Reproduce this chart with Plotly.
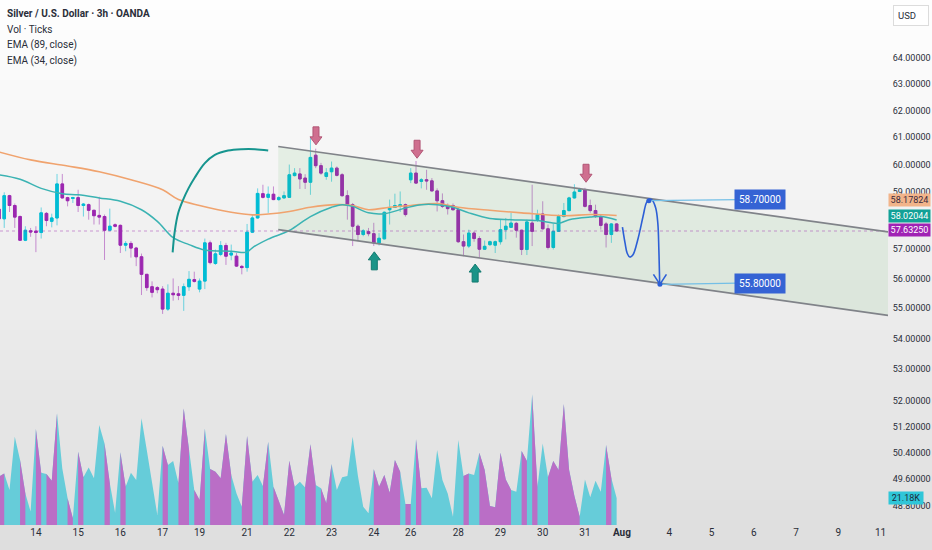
import math
import plotly.graph_objects as go

# 3h bars, index 0 = first full bar on screen (Jul 13 evening)
bars = list(range(-1, 117))
opens = [58.40,
         58.06, 58.88, 58.53, 58.14, 57.31, 57.64, 57.63, 57.58, 58.25, 57.97,
         58.09, 59.30, 58.81, 58.78, 58.81, 58.53, 58.56, 58.36, 58.18, 58.14,
         57.66, 57.85, 57.83, 57.14, 57.20, 57.04, 56.74, 56.14, 55.72, 55.69,
         55.64, 54.97, 55.50, 55.48, 55.43, 55.72, 55.96, 55.64, 55.91, 57.22,
         56.51, 56.82, 57.13, 56.80, 56.76, 56.41, 56.37, 57.59, 58.09, 58.95,
         58.82, 58.93, 58.74, 58.80, 58.82, 59.60, 59.66, 59.51, 59.36, 60.34,
         59.96, 59.57, 59.74, 59.87, 59.63, 58.88, 58.56, 57.80, 57.51, 57.61,
         57.54, 57.22, 57.36, 58.38, 58.46, 58.50, 58.56, 59.45, 59.69, 59.39,
         59.45, 59.41, 59.05, 58.70, 58.53, 58.53, 58.38, 57.26, 57.11, 57.56,
         57.37, 57.00, 57.16, 57.14, 57.26, 57.68, 57.76, 57.90, 57.66, 56.99,
         57.91, 58.03, 58.23, 57.71, 57.06, 57.62, 58.14, 58.35, 58.80, 59.03,
         59.09, 58.53, 58.35, 58.14, 57.88, 57.51, 57.88]
highs = [58.45,
         59.00, 58.91, 58.60, 58.18, 57.80, 57.74, 57.80, 58.46, 58.30, 58.24,
         59.66, 59.66, 58.84, 58.84, 59.09, 58.62, 58.60, 58.38, 58.84, 58.21,
         58.42, 57.90, 57.86, 57.28, 57.28, 57.08, 56.85, 56.14, 55.90, 55.74,
         55.74, 55.80, 56.00, 55.74, 55.83, 56.25, 56.23, 56.00, 57.37, 57.30,
         56.99, 57.28, 57.22, 57.16, 56.87, 56.46, 57.88, 58.21, 59.14, 59.27,
         59.21, 59.21, 58.86, 59.03, 60.00, 59.87, 59.87, 59.65, 60.97, 60.58,
         60.06, 59.87, 60.11, 59.93, 59.69, 59.07, 58.62, 57.86, 57.70, 57.74,
         57.92, 57.56, 58.32, 58.74, 58.95, 59.03, 58.60, 59.87, 60.13, 59.51,
         59.81, 59.51, 59.14, 58.96, 58.60, 58.60, 58.44, 57.51, 57.68, 57.62,
         57.45, 57.30, 57.30, 57.30, 58.03, 58.09, 58.27, 57.95, 57.68, 58.03,
         59.27, 58.38, 58.68, 57.86, 57.88, 58.21, 58.62, 58.84, 59.29, 59.16,
         59.16, 58.74, 58.56, 58.23, 57.95, 57.91, 57.91]
lows = [58.00,
        57.74, 58.30, 57.74, 57.30, 57.28, 57.43, 56.90, 57.37, 57.80, 57.76,
        57.83, 58.78, 58.50, 58.62, 58.30, 58.14, 58.03, 57.86, 57.86, 56.63,
        57.62, 57.76, 56.87, 56.93, 56.71, 56.42, 55.44, 55.58, 55.36, 55.50,
        54.81, 54.91, 55.25, 55.27, 54.91, 55.58, 55.86, 55.53, 55.64, 56.48,
        56.46, 56.76, 56.46, 56.62, 56.39, 56.14, 56.23, 57.56, 58.07, 58.78,
        58.27, 58.72, 58.70, 58.78, 58.80, 59.57, 59.12, 59.12, 58.91, 59.87,
        59.63, 59.45, 59.38, 59.57, 58.84, 58.03, 57.11, 57.28, 57.45, 57.45,
        57.11, 57.13, 57.34, 57.86, 58.44, 58.30, 58.14, 59.33, 59.30, 59.14,
        59.09, 59.03, 58.32, 58.44, 58.21, 58.35, 57.22, 56.76, 57.04, 57.26,
        56.71, 56.99, 57.11, 56.87, 57.16, 57.34, 57.74, 57.40, 56.80, 56.80,
        57.11, 57.95, 57.68, 56.99, 56.99, 57.60, 58.11, 58.32, 58.78, 59.01,
        58.46, 58.27, 58.09, 57.68, 57.06, 57.22, 57.60]
closes = [58.06,
          58.88, 58.53, 58.12, 57.31, 57.66, 57.60, 57.58, 58.27, 58.00, 58.09,
          59.30, 58.80, 58.70, 58.81, 58.53, 58.58, 58.36, 58.17, 58.12, 57.66,
          57.80, 57.80, 57.14, 57.20, 57.04, 56.74, 56.14, 55.69, 55.53, 55.62,
          54.97, 55.50, 55.45, 55.43, 55.72, 55.97, 55.90, 55.91, 57.22, 56.54,
          56.84, 57.13, 56.76, 56.87, 56.42, 56.37, 57.59, 58.09, 58.96, 58.82,
          58.93, 58.74, 58.81, 58.88, 59.63, 59.69, 59.48, 59.36, 60.26, 59.96,
          59.69, 59.70, 59.87, 59.61, 58.88, 58.53, 57.80, 57.51, 57.64, 57.54,
          57.22, 57.38, 58.29, 58.44, 58.53, 58.56, 58.21, 59.69, 59.33, 59.45,
          59.41, 59.05, 58.70, 58.50, 58.42, 58.38, 57.26, 57.11, 57.56, 57.37,
          57.00, 57.10, 57.26, 57.26, 57.68, 57.80, 57.91, 57.66, 56.99, 57.95,
          57.62, 58.21, 57.71, 57.06, 57.62, 58.14, 58.35, 58.80, 59.01, 59.09,
          58.50, 58.35, 58.14, 57.83, 57.51, 57.88, 57.6325]
# volume in thousands of ticks
volumes = [37.9,
           40.5, 27.5, 69.3, 51.0, 24.8, 10.5, 75.3, 41.0, 40.0, 34.8,
           87.6, 44.4, 20.9, 5.2, 57.5, 37.4, 45.2, 36.6, 78.4, 64.0,
           32.7, 9.7, 57.0, 30.1, 41.0, 35.3, 83.7, 58.8, 32.7, 7.8,
           62.2, 47.1, 50.2, 32.7, 91.5, 58.8, 27.5, 19.6, 75.8, 43.9,
           41.8, 36.6, 71.4, 39.2, 24.8, 14.4, 69.8, 34.0, 39.2, 30.6,
           65.4, 30.1, 19.6, 7.8, 50.5, 30.1, 34.0, 29.5, 63.3, 31.4,
           28.8, 17.0, 47.8, 27.5, 37.4, 38.4, 69.3, 38.4, 14.4, 9.2,
           43.7, 30.1, 39.2, 25.4, 51.0, 41.8, 16.5, 16.5, 67.2, 28.8,
           29.3, 20.9, 58.8, 35.3, 24.8, 6.5, 66.7, 38.4, 40.5, 39.2,
           56.7, 43.1, 14.9, 13.9, 56.7, 35.8, 27.5, 26.1, 58.0, 50.2,
           102.7, 30.1, 64.0, 37.4, 50.2, 43.1, 94.9, 43.1, 22.7, 6.5,
           35.8, 21.7, 34.8, 26.1, 62.7, 36.6, 21.18]
# colour of the volume area segment ending at each bar (u = cyan, d = purple)
vol_dir = ("d" + "duuuduudud" + "duududuuuu" + "duuduuuuuu" + "uduudduddu"
           + "dddduudduu" + "dudddduudd" + "udduuuuuuu" + "udddddudud"
           + "uuuuuuuudu" + "udddddduud" + "uduudddddd" + "uuuuudu")

ema89_bars = [-1, 5, 12, 18, 24, 30, 33, 37, 43, 47, 50, 54, 58, 63, 66, 69,
              73, 77, 82, 86, 92, 98, 106, 111, 116]
ema89 = [60.46, 60.17, 59.95, 59.74, 59.45, 59.09, 58.74, 58.53, 58.29, 58.20,
         58.23, 58.32, 58.47, 58.56, 58.53, 58.38, 58.47, 58.53, 58.60, 58.47,
         58.36, 58.27, 58.17, 58.21, 58.17824]
ema34_bars = [-1, 3, 7, 11, 14, 18, 22, 26, 29, 32, 35, 38, 43, 46, 47, 50, 54,
              58, 62, 64, 66, 69, 72, 76, 79, 82, 85, 88, 92, 96, 101, 105, 107,
              111, 113, 116]
ema34 = [59.63, 59.47, 59.14, 58.95, 58.91, 58.80, 58.68, 58.38, 57.97, 57.40,
         57.16, 56.97, 56.93, 56.90, 57.05, 57.35, 57.65, 58.14, 58.47, 58.56,
         58.50, 58.27, 58.24, 58.44, 58.56, 58.56, 58.47, 58.27, 58.07, 58.03,
         58.00, 57.90, 58.03, 58.12, 58.14, 58.02044]

x_tick_pos = [6, 14, 22, 30, 37, 46, 54, 62, 70, 77, 86, 94, 102, 110, 117,
              126, 134, 142, 150, 158, 166]
x_tick_text = ["14", "15", "16", "17", "19", "21", "22", "23", "24", "26", "28",
               "29", "30", "31", "<b>Aug</b>", "4", "5", "6", "7", "9", "11"]
# 58.00000 sits under the price tags in the original, so it is left out
price_ticks = [64, 63, 62, 61, 60, 59, 57, 56, 55, 54, 53, 52, 51.2, 50.4,
               49.6, 48.8]

# drawings on the chart (bar index, price)
channel_upper = [(51.9, 60.66), (167.4, 57.60)]
channel_lower = [(51.9, 57.68), (167.4, 54.76)]
arc_pts = [(31.9, 56.89), (32.3, 57.62), (32.97, 58.27), (33.9, 58.74),
           (34.9, 59.14), (36.1, 59.53), (38.0, 60.05), (39.9, 60.35),
           (42.4, 60.51), (45.0, 60.56), (47.5, 60.56), (50.0, 60.51)]
path_pts = [(117.1, 57.77), (117.6, 57.21), (118.0, 56.86), (118.5, 56.73),
            (119.1, 56.81), (120.0, 57.33), (121.0, 58.14), (121.6, 58.61),
            (122.1, 58.75), (122.7, 58.73), (123.4, 58.44), (123.8, 57.91),
            (124.0, 56.97), (124.15, 55.85)]
targets = [(122.1, 58.70), (124.2, 55.80)]
sell_arrows = [(59.05, 60.72), (78.2, 60.23), (110.2, 59.36)]
buy_arrows = [(70.1, 56.91), (89.2, 56.49)]

FONT = "Roboto, Liberation Sans, sans-serif"
PX_BAR = 5.28      # pixels per bar
PX_LN = 1651.0     # pixels per unit of ln(price)
CYAN = "#00bcd4"
PURPLE = "#9c27b0"
X_RANGE = [-0.8, 167.4]

assert len(opens) == len(highs) == len(lows) == len(closes) == len(volumes) == len(vol_dir) == len(bars)

fig = go.Figure()

# channel background
fig.add_trace(go.Scatter(
    x=[channel_upper[0][0], channel_upper[1][0], channel_lower[1][0], channel_lower[0][0], channel_upper[0][0]],
    y=[channel_upper[0][1], channel_upper[1][1], channel_lower[1][1], channel_lower[0][1], channel_upper[0][1]],
    fill="toself", fillcolor="rgba(76,175,80,0.10)", mode="lines", line=dict(width=0),
    hoverinfo="skip"))

# volume area, cyan everywhere then purple runs on top
fig.add_trace(go.Scatter(x=bars, y=volumes, yaxis="y2", mode="lines", fill="tozeroy",
                         fillcolor="#66ccd9", line=dict(width=0, color="#66ccd9"),
                         hoverinfo="skip"))
n = len(bars)
k = 1
while k < n:
    if vol_dir[k] == "d":
        a = k
        while k < n and vol_dir[k] == "d":
            k += 1
        b = k - 1
        xs = bars[a - 1:b + 1] + [bars[b], bars[a - 1]]
        ys = volumes[a - 1:b + 1] + [0, 0]
        fig.add_trace(go.Scatter(x=xs, y=ys, yaxis="y2", mode="lines", fill="toself",
                                 fillcolor="#ba6ec6", line=dict(width=0),
                                 hoverinfo="skip"))
    else:
        k += 1

# last price dotted line
fig.add_trace(go.Scatter(x=X_RANGE, y=[closes[-1], closes[-1]], mode="lines",
                         line=dict(color="rgba(156,39,176,0.45)", width=1, dash="dot"),
                         hoverinfo="skip"))

# EMAs
fig.add_trace(go.Scatter(x=ema89_bars, y=ema89, mode="lines",
                         line=dict(color="#f0a36e", width=1.6, shape="spline"), hoverinfo="skip"))
fig.add_trace(go.Scatter(x=ema34_bars, y=ema34, mode="lines",
                         line=dict(color="#3bb3b3", width=1.5, shape="spline"), hoverinfo="skip"))

# candles: light wicks, then solid bodies
fig.add_trace(go.Candlestick(
    x=bars, open=opens, high=highs, low=lows, close=closes,
    increasing=dict(line=dict(color="rgba(0,188,212,0.55)", width=1), fillcolor="rgba(0,0,0,0)"),
    decreasing=dict(line=dict(color="rgba(156,39,176,0.5)", width=1), fillcolor="rgba(0,0,0,0)"),
    hoverinfo="skip"))
fig.add_trace(go.Candlestick(
    x=bars, open=opens, close=closes,
    high=[max(o, c) for o, c in zip(opens, closes)],
    low=[min(o, c) for o, c in zip(opens, closes)],
    increasing=dict(line=dict(color=CYAN, width=1), fillcolor=CYAN),
    decreasing=dict(line=dict(color=PURPLE, width=1), fillcolor=PURPLE),
    hoverinfo="skip"))

# channel borders
for line in (channel_upper, channel_lower):
    fig.add_trace(go.Scatter(x=[p[0] for p in line], y=[p[1] for p in line], mode="lines",
                             line=dict(color="#808389", width=1.7), hoverinfo="skip"))

# teal arc
fig.add_trace(go.Scatter(x=[p[0] for p in arc_pts], y=[p[1] for p in arc_pts], mode="lines",
                         line=dict(color="#16958f", width=2, shape="spline"), hoverinfo="skip"))


def block_arrow(tx, tp, down, color, edge):
    # outline in pixels relative to the tip
    pts = [(0, 0), (-6, 8), (-3, 8), (-3, 18), (3, 18), (3, 8), (6, 8), (0, 0)]
    s = 1 if down else -1
    xs = [tx + dx / PX_BAR for dx, dy in pts]
    ys = [tp * math.exp(s * dy / PX_LN) for dx, dy in pts]
    return go.Scatter(x=xs, y=ys, mode="lines", fill="toself", fillcolor=color,
                      line=dict(color=edge, width=1), hoverinfo="skip")


for tx, tp in sell_arrows:
    fig.add_trace(block_arrow(tx, tp, True, "#cf6f8f", "#b25676"))
for tx, tp in buy_arrows:
    fig.add_trace(block_arrow(tx, tp, False, "#1b9488", "#127a70"))

# projection path and targets
fig.add_trace(go.Scatter(x=[p[0] for p in path_pts], y=[p[1] for p in path_pts], mode="lines",
                         line=dict(color="#2d5fd6", width=1.6, shape="spline"), hoverinfo="skip"))
tip_x, tip_p = targets[1]
head = 6.5
fig.add_trace(go.Scatter(
    x=[tip_x - head / PX_BAR, tip_x, tip_x + head / PX_BAR],
    y=[tip_p * math.exp(10 / PX_LN), tip_p, tip_p * math.exp(10 / PX_LN)],
    mode="lines", line=dict(color="#2d5fd6", width=1.6), hoverinfo="skip"))
label_x = 139.2
for tx, tp in targets:
    fig.add_trace(go.Scatter(x=[tx, label_x], y=[tp, tp * 1.0007], mode="lines",
                             line=dict(color="#74bfe6", width=1.3), hoverinfo="skip"))
fig.add_trace(go.Scatter(x=[t[0] for t in targets], y=[t[1] for t in targets], mode="markers",
                         marker=dict(color="#2d5fd6", size=5), hoverinfo="skip"))

annotations = []
for tx, tp in targets:
    annotations.append(dict(x=143.1, y=math.log10(tp * 1.0007), xref="x", yref="y",
                            text=f"{tp:.5f}", showarrow=False, bgcolor="#3563d4",
                            font=dict(family=FONT, size=10, color="white"), borderpad=4))

# top-left legend
legend_lines = ["<b>Silver / U.S. Dollar · 3h · OANDA</b>", "Vol · Ticks",
                "EMA (89, close)", "EMA (34, close)"]
for i, txt in enumerate(legend_lines):
    annotations.append(dict(x=5 / 888, y=1 - (14 + 15.5 * i) / 525, xref="paper", yref="paper",
                            xanchor="left", yanchor="middle", text=txt, showarrow=False,
                            font=dict(family=FONT, size=10, color="#2a2e39")))

# right-axis tags
tags = [(58.17824, 15, "#f2b48a", "#3a2a40"), (58.02044, 4, "#13a197", "white"),
        (closes[-1], 1.5, "#a023b4", "white")]
for val, shift, bg, fg in tags:
    annotations.append(dict(x=1, y=math.log10(val), xref="paper", yref="y", xanchor="left",
                            yshift=shift, text=f"{val:.5f}", showarrow=False, bgcolor=bg,
                            width=39, borderpad=1, font=dict(family=FONT, size=9, color=fg)))
annotations.append(dict(x=1, y=volumes[-1], xref="paper", yref="y2", xanchor="left",
                        text=f"{volumes[-1]:.2f}K", showarrow=False, bgcolor="#2fc6d8",
                        width=32, borderpad=1, font=dict(family=FONT, size=9, color="#1d2b3a")))
annotations.append(dict(x=893 / 888, y=1 - 15 / 525, xref="paper", yref="paper", xanchor="left",
                        yanchor="middle", text="USD", showarrow=False, bgcolor="white",
                        bordercolor="#dcdcdc", borderwidth=1, borderpad=4, width=26, align="left",
                        font=dict(family=FONT, size=9.5, color="#2a2e39")))

# soft vertical background gradient
shapes = []
n_bands = 55
for b in range(n_bands):
    t = b / (n_bands - 1)
    g = round(254 - 32 * t)
    shapes.append(dict(type="rect", xref="paper", yref="paper", x0=0, x1=932 / 888,
                       y0=1 - (b + 1) * (550 / n_bands) / 525 - 0.002,
                       y1=1 - b * (550 / n_bands) / 525,
                       fillcolor=f"rgb({g},{g},{g})", line=dict(width=0), layer="below"))

fig.update_layout(
    width=932, height=550, autosize=False,
    margin=dict(l=0, r=44, t=0, b=25),
    paper_bgcolor="#e4e4e4", plot_bgcolor="rgba(0,0,0,0)",
    showlegend=False, shapes=shapes, annotations=annotations,
    xaxis=dict(range=X_RANGE, tickvals=x_tick_pos, ticktext=x_tick_text, showgrid=False,
               zeroline=False, showline=False, ticks="", rangeslider=dict(visible=False),
               tickfont=dict(family=FONT, size=10, color="#2a2e39"), fixedrange=True),
    yaxis=dict(type="log", range=[math.log10(48.23), math.log10(66.29)], side="right",
               tickvals=price_ticks, ticktext=[f"{v:.5f}" for v in price_ticks],
               showgrid=False, zeroline=False, showline=False, ticks="outside", ticklen=2,
               tickcolor="rgba(0,0,0,0)", tickfont=dict(family=FONT, size=9, color="#2a2e39"),
               fixedrange=True),
    yaxis2=dict(overlaying="y", range=[0, 412], visible=False, fixedrange=True),
)

fig.write_html("out.html", config={"displayModeBar": False},
               post_script="document.body.style.margin='0px';")
